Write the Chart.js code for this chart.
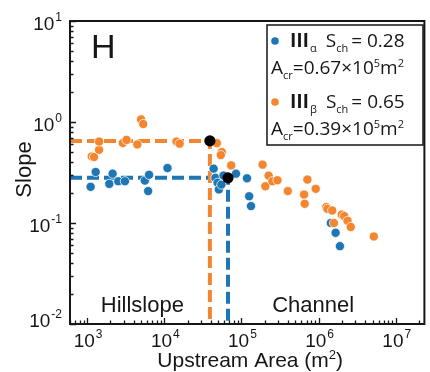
<!DOCTYPE html>
<html><head><meta charset="utf-8">
<script src="https://cdn.jsdelivr.net/npm/chart.js@4"></script>
<style>html,body{margin:0;padding:0;background:#fff;}canvas{display:block;}</style>
</head><body>
<canvas id="c" width="430" height="372"></canvas>
<script>
// ---- data ----
const alphaArea  = [1110, 1290, 1940, 2140, 2530, 3090, 5600, 6350, 6180, 11000, 43600, 46000, 49000, 51000, 55000, 58600, 85000, 118000, 126000, 133000, 1440000, 1660000, 1890000];
const alphaSlope = [0.228, 0.32, 0.244, 0.308, 0.259, 0.259, 0.263, 0.30, 0.207, 0.35, 0.345, 0.28, 0.25, 0.215, 0.24, 0.295, 0.308, 0.277, 0.184, 0.147, 0.10, 0.08, 0.059];
const betaArea   = [1150, 1230, 1430, 1430, 2900, 3240, 4470, 5000, 5330, 14400, 15800, 48000, 55600, 54000, 73600, 188000, 225000, 204000, 252000, 293000, 399000, 648000, 660000, 716000, 918000, 1260000, 1300000, 1500000, 1580000, 2000000, 2150000, 2370000, 2610000, 5200000];
const betaSlope  = [0.456, 0.45, 0.53, 0.64, 0.62, 0.665, 0.60, 1.06, 0.955, 0.64, 0.61, 0.617, 0.504, 0.47, 0.372, 0.378, 0.294, 0.231, 0.259, 0.265, 0.207, 0.191, 0.155, 0.269, 0.218, 0.144, 0.138, 0.133, 0.10, 0.121, 0.117, 0.105, 0.0914, 0.0735];
const alphaSch = 0.28, alphaAcr = 0.67e5;
const betaSch  = 0.65, betaAcr  = 0.39e5;
const xTickExps = [3, 4, 5, 6, 7];
const yTickExps = [1, 0, -1, -2];
const xRange = [600, 2.35e7];
const yRange = [0.01, 10];
const regionLabels = ['Hillslope', 'Channel'];
const panelLabel = 'H';
const yTitle = 'Slope';

const BLUE = '#1f76b4', ORANGE = '#f3862f', INK = '#161616';

const toPts = (xs, ys) => xs.map((v, i) => ({x: v, y: ys[i]}));

function seq(ctx, x, y, parts) {
  for (const p of parts) {
    ctx.font = p.f;
    ctx.fillText(p.t, x, y + (p.dy || 0));
    x += ctx.measureText(p.t).width + (p.g || 0);
  }
  return x;
}
function seqWidth(ctx, parts) {
  let w = 0;
  for (const p of parts) { ctx.font = p.f; w += ctx.measureText(p.t).width + (p.g || 0); }
  return w;
}

const deco = {
  id: 'deco',
  beforeDraw(chart) {
    const c = chart.ctx; c.save(); c.fillStyle = '#fff'; c.fillRect(0, 0, chart.width, chart.height); c.restore();
  },
  afterDraw(chart) {
    const ctx = chart.ctx, a = chart.chartArea, xs = chart.scales.x, ys = chart.scales.y;
    ctx.save();
    ctx.strokeStyle = INK; ctx.fillStyle = INK;
    // minor/major ticks (inward)
    ctx.lineWidth = 1.3;
    ctx.beginPath();
    for (let e = 2; e <= 7; e++) for (let m = 1; m < 10; m++) {
      const v = m * Math.pow(10, e);
      if (v < xRange[0] || v > xRange[1]) continue;
      const px = Math.round(xs.getPixelForValue(v)) + 0.5;
      const len = m === 1 ? 6 : 3.5;
      ctx.moveTo(px, a.bottom); ctx.lineTo(px, a.bottom - len);
    }
    for (let e = -2; e <= 1; e++) for (let m = 1; m < 10; m++) {
      const v = m * Math.pow(10, e);
      if (v < yRange[0] || v > yRange[1]) continue;
      const py = Math.round(ys.getPixelForValue(v)) + 0.5;
      const len = m === 1 ? 6 : 3.5;
      ctx.moveTo(a.left, py); ctx.lineTo(a.left + len, py);
    }
    ctx.stroke();
    // frame
    ctx.lineWidth = 2;
    ctx.strokeRect(a.left, a.top, a.right - a.left, a.bottom - a.top);

    // x tick labels
    ctx.textAlign = 'left'; ctx.textBaseline = 'alphabetic';
    const big = '19px "Liberation Sans", Arial, sans-serif', sup = '12px "Liberation Sans", Arial, sans-serif';
    for (const e of xTickExps) {
      const parts = [{t: '10', f: big, g: 1}, {t: String(e), f: sup, dy: -9}];
      const w = seqWidth(ctx, parts);
      const px = xs.getPixelForValue(Math.pow(10, e));
      seq(ctx, px - w / 2 + 1, a.bottom + 23, parts);
    }
    // y tick labels
    for (const e of yTickExps) {
      const parts = [{t: '10', f: big, g: 1}, {t: String(e), f: sup, dy: -9}];
      const w = seqWidth(ctx, parts);
      const py = ys.getPixelForValue(Math.pow(10, e));
      seq(ctx, a.left - 8 - w, Math.min(py + 9, a.bottom + 3), parts);
    }
    // x title
    const tf = '21px "Liberation Sans", Arial, sans-serif';
    const tparts = [{t: 'Upstream Area (m', f: tf}, {t: '2', f: '13px "Liberation Sans", Arial, sans-serif', dy: -8}, {t: ')', f: tf}];
    const tw = seqWidth(ctx, tparts);
    seq(ctx, (a.left + a.right) / 2 + 3 - tw / 2, 367, tparts);
    // y title
    ctx.save();
    ctx.translate(25, (a.top + a.bottom) / 2 - 3);
    ctx.rotate(-Math.PI / 2);
    ctx.font = '22px "Liberation Sans", Arial, sans-serif';
    ctx.textAlign = 'center'; ctx.textBaseline = 'middle';
    ctx.fillText(yTitle, 0, 0);
    ctx.restore();
    // panel letter
    ctx.font = '34px "Liberation Sans", Arial, sans-serif';
    ctx.textAlign = 'left';
    ctx.fillText(panelLabel, a.left + 21, a.top + 37);
    // region labels
    ctx.font = '22px "Liberation Sans", Arial, sans-serif';
    ctx.textAlign = 'center';
    ctx.fillText(regionLabels[0], xs.getPixelForValue(5.2e3), a.bottom - 12);
    ctx.fillText(regionLabels[1], xs.getPixelForValue(8.5e5), a.bottom - 12);

    // legend box
    ctx.textAlign = 'left';
    ctx.fillStyle = '#fff';
    ctx.fillRect(267, 25, 156, 120);
    ctx.lineWidth = 1.5; ctx.strokeStyle = INK;
    ctx.strokeRect(267, 25, 156, 120);
    ctx.fillStyle = INK;
    const LF = '19px "Open Sans", sans-serif', LS = '11px "Open Sans", sans-serif', RF = 'bold 19px "Noto Sans CJK SC", sans-serif';
    const rows = [
      {color: BLUE, greek: 'α', sch: alphaSch, acr: alphaAcr, y: 47},
      {color: ORANGE, greek: 'β', sch: betaSch, acr: betaAcr, y: 108}
    ];
    for (const r of rows) {
      ctx.fillStyle = r.color;
      ctx.beginPath(); ctx.arc(275, r.y - 6, 3.8, 0, Math.PI * 2); ctx.fill();
      ctx.fillStyle = INK;
      seq(ctx, 290, r.y, [
        {t: '\u2162', f: RF, g: 1}, {t: r.greek, f: LS, dy: 5, g: 9},
        {t: 'S', f: LF}, {t: 'ch', f: LS, dy: 5, g: 3},
        {t: '= ' + r.sch.toFixed(2), f: LF}
      ]);
      seq(ctx, 271, r.y + 27, [
        {t: 'A', f: LF}, {t: 'cr', f: LS, dy: 5},
        {t: '=' + (r.acr / 1e5).toFixed(2) + '×10', f: LF}, {t: '5', f: LS, dy: -7},
        {t: 'm', f: LF}, {t: '2', f: LS, dy: -7}
      ]);
    }
    ctx.restore();
  }
};

const dashStyle = {showLine: true, pointRadius: 0, borderWidth: 4, borderDash: [12, 5], fill: false, order: 10};

new Chart(document.getElementById('c'), {
  type: 'scatter',
  data: {
    datasets: [
      Object.assign({label: 'beta break', data: [{x: xRange[0], y: betaSch}, {x: betaAcr, y: betaSch}, {x: betaAcr, y: yRange[0]}], borderColor: ORANGE}, dashStyle),
      Object.assign({label: 'alpha break', data: [{x: xRange[0], y: alphaSch}, {x: alphaAcr, y: alphaSch}, {x: alphaAcr, y: yRange[0]}], borderColor: BLUE}, dashStyle),
      {label: 'III alpha', data: toPts(alphaArea, alphaSlope), backgroundColor: BLUE, borderColor: 'rgba(255,255,255,0.9)', borderWidth: 0.8, pointRadius: 4.6, order: 5},
      {label: 'III beta', data: toPts(betaArea, betaSlope), backgroundColor: ORANGE, borderColor: 'rgba(255,255,255,0.9)', borderWidth: 0.8, pointRadius: 4.6, order: 4},
      {label: 'critical', data: [{x: betaAcr, y: betaSch}, {x: alphaAcr, y: alphaSch}], backgroundColor: '#000', borderColor: '#000', borderWidth: 0, pointRadius: 5.6, order: 1}
    ]
  },
  options: {
    responsive: false, animation: false, devicePixelRatio: 1,
    layout: {padding: {left: 70, right: 4, top: 21, bottom: 48}},
    plugins: {legend: {display: false}, tooltip: {enabled: false}},
    scales: {
      x: {type: 'logarithmic', min: xRange[0], max: xRange[1], display: false},
      y: {type: 'logarithmic', min: yRange[0], max: yRange[1], display: false}
    }
  },
  plugins: [deco]
});
</script>
</body></html>
